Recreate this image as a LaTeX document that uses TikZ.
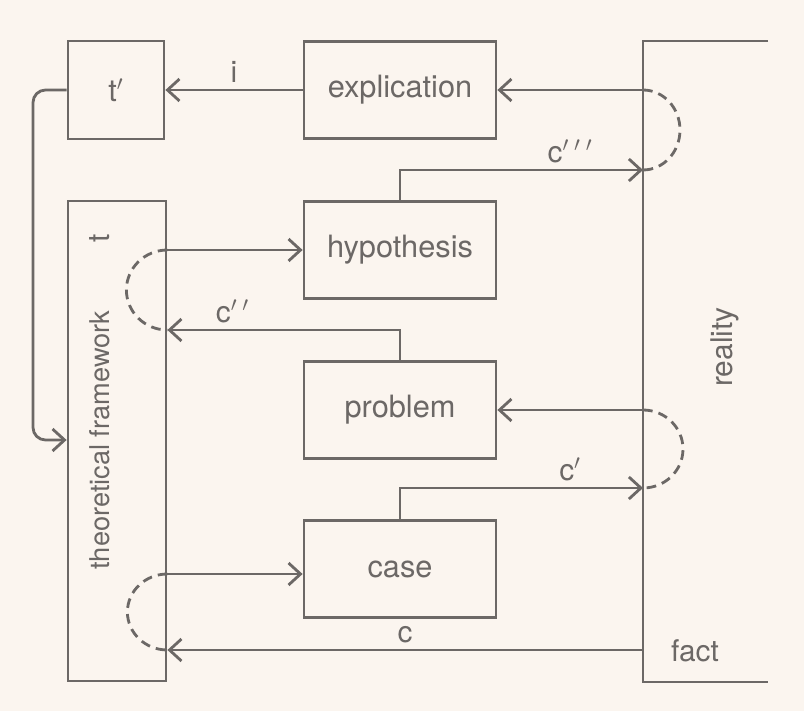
\documentclass[tikz,border=0pt]{standalone}
\usepackage{fontspec}
\setmainfont{TeX Gyre Heros}
\usepackage{tikz}
\usetikzlibrary{arrows.meta}
\usepackage{xcolor}
\definecolor{ink}{RGB}{108,104,102}
\definecolor{paper}{RGB}{251,245,239}

\begin{document}
\begin{tikzpicture}[x=0.02cm, y=0.02cm,
  every node/.style={text=ink},
  box/.style={draw=ink, line width=1.6pt, minimum width=3.84cm, minimum height=1.94cm,
    inner sep=0pt, font=\fontsize{17.5}{20}\selectfont},
  lbl/.style={font=\fontsize{17}{20}\selectfont},
  link/.style={draw=ink, line width=1.6pt,
    -{Straight Barb[length=2.4mm,width=4.4mm,line width=1.6pt]}},
  loopdash/.style={draw=ink, line width=1.6pt, dash pattern=on 5.5pt off 3.5pt}]

\fill[paper] (0,0) rectangle (804,711);
\useasboundingbox (0,0) rectangle (804,711);

% boxes
\node[box, minimum width=1.92cm, minimum height=1.96cm] (tp) at (116,621) {t$'$};
\node[box] (expl) at (400,621) {explication};
\node[box] (hyp) at (400,461) {hypothesis};
\node[box] (prob) at (400,301) {problem};
\node[box] (case) at (400,142) {case};
\node[box, minimum width=1.96cm, minimum height=9.6cm] (tf) at (117,270) {};
\node[rotate=90, font=\fontsize{15.5}{18}\selectfont] (tftext) at (100,271) {theoretical framework};
\node[lbl, rotate=90] (tflabel) at (100,473) {t};

% reality
\coordinate (rtop) at (643,670);
\coordinate (rbot) at (643,29);
\draw[ink, line width=1.6pt] (768,670) -- (rtop) -- (rbot) -- (768,29);
\node[lbl, rotate=90] (real) at (725,364) {reality};
\node[lbl] (fact) at (695,60) {fact};

\coordinate (r1) at (rtop |- expl.east);
\coordinate (r2) at (643,541);
\coordinate (r3) at (rtop |- prob.east);
\coordinate (r4) at (643,223);
\coordinate (r5) at (643,61);
\coordinate (t1) at (tf.east |- hyp.west);
\coordinate (t2) at (tf.east |- 0,381);
\coordinate (t3) at (tf.east |- 0,137);
\coordinate (t4) at (tf.east |- r5);

% connectors
\draw[link] (expl) -- node[above, lbl] {i} (tp);
\draw[link] (r1) -- (expl.east);
\draw[link] (hyp.north) |- node[pos=0.85, above, lbl] {c$^{\prime\;\prime\;\prime}$} (r2);
\draw[link] (t1) -- (hyp.west);
\draw[link] (prob.north) |- node[pos=0.86, above, lbl] {c$^{\prime\;\prime}$} (t2);
\draw[link] (r3) -- (prob.east);
\draw[link] (case.north) |- node[pos=0.85, above, lbl] {c$'$} (r4);
\draw[link] (t3) -- (t3 -| case.west);
\draw[link] (r5) -- node[above, lbl] {c} (t4);
\draw[link, rounded corners=0.25cm] (tp.west) -- (33,621) -- (33,271) -- (tf.west |- 0,271);

% dashed loops
\draw[loopdash] (r1) arc[start angle=90, end angle=-90, x radius=0.74cm, y radius=0.8cm];
\draw[loopdash] (r3) arc[start angle=90, end angle=-90, x radius=0.8cm, y radius=0.78cm];
\draw[loopdash] (t1) arc[start angle=90, end angle=270, x radius=0.82cm, y radius=0.8cm];
\draw[loopdash] (t3) arc[start angle=90, end angle=270, x radius=0.8cm, y radius=0.76cm];
\end{tikzpicture}
\end{document}
